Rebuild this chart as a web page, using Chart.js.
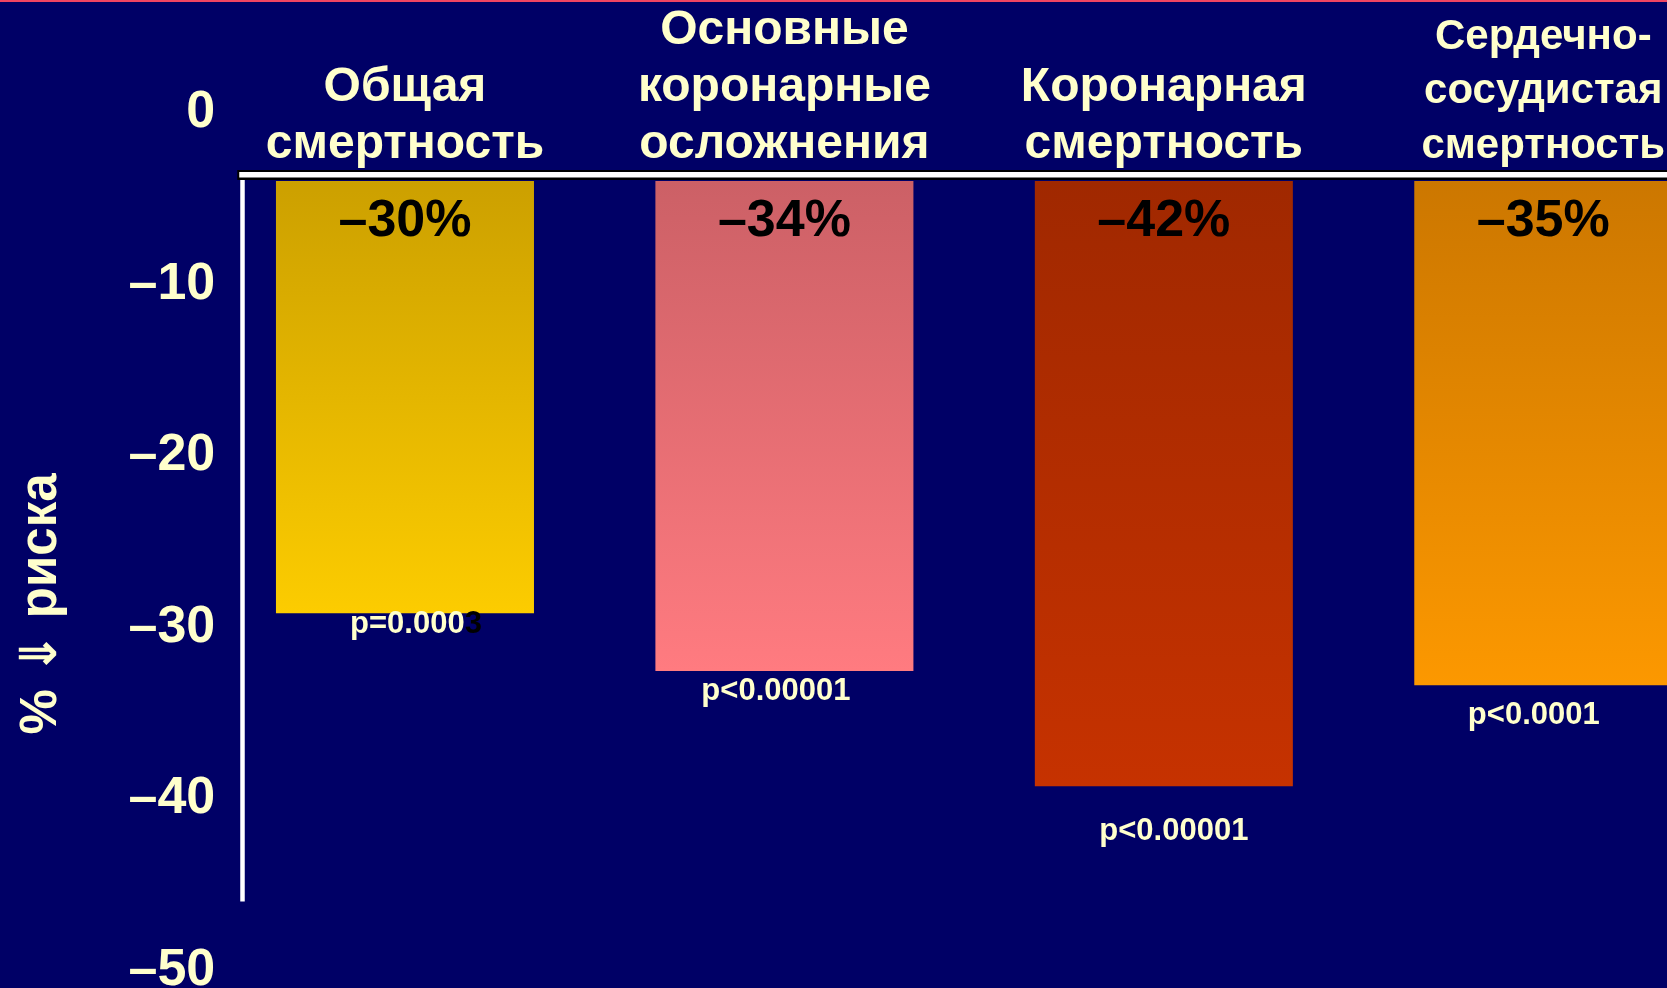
<!DOCTYPE html>
<html>
<head>
<meta charset="utf-8">
<script src="https://cdn.jsdelivr.net/npm/chart.js@4.4.1/dist/chart.umd.min.js"></script>
<style>
html,body{margin:0;padding:0;overflow:hidden;background:#000066;}
#wrap{position:relative;width:1667px;height:988px;overflow:hidden;background:#000066;}
#topline{position:absolute;left:0;top:0;width:100%;height:2px;background:#f04462;z-index:2;}
canvas{position:absolute;left:0;top:0;}
</style>
</head>
<body>
<div id="wrap"><div id="topline"></div><canvas id="c" width="1733" height="1032" style="width:1733px;height:1032px"></canvas></div>
<script>
// ---- data ----
const categories = [
  ['Общая', 'смертность'],
  ['Основные', 'коронарные', 'осложнения'],
  ['Коронарная', 'смертность'],
  ['Сердечно-', 'сосудистая', 'смертность']
];
const riskReduction = [-30, -34, -42, -35];
const pValues = ['p=0.0003', 'p<0.00001', 'p<0.00001', 'p<0.0001'];
const tickValues = [0, -10, -20, -30, -40, -50];
const tickLabels = ['0', '–10', '–20', '–30', '–40', '–50'];
const axisTitle = '% ⇓ риска';

// ---- styles ----
const barTopColors = ['#CCA000', '#CC6066', '#A02800', '#CC7700'];
const barBottomColors = ['#FCCC00', '#FF7B80', '#C63200', '#FC9800'];
const FAMILY = '"Liberation Sans", Arial, "DejaVu Sans", sans-serif';
const CREAM = '#FFFFCC';

function noPad(s) { s.paddingTop = 0; s.paddingBottom = 0; s.paddingLeft = 0; s.paddingRight = 0; }

const decor = {
  id: 'decor',
  beforeDatasetsDraw(chart) {
    const {ctx, chartArea, scales: {y}} = chart;
    const p0 = y.getPixelForValue(0);
    const pEnd = y.getPixelForValue(-50);
    ctx.save();
    ctx.fillStyle = '#000000';
    ctx.fillRect(chartArea.left + 22, p0 - 11, chart.width, 10);
    ctx.fillStyle = '#ffffff';
    ctx.fillRect(chartArea.left + 24, p0 - 9, chart.width, 5.5);
    ctx.fillRect(chartArea.left + 25, p0 - 1, 4.5, pEnd - p0 + 1);
    ctx.restore();
  }
};

const barLabels = {
  id: 'barLabels',
  afterDatasetsDraw(chart, args, opts) {
    const {ctx} = chart;
    const meta = chart.getDatasetMeta(0);
    ctx.save();
    ctx.textBaseline = 'middle';
    meta.data.forEach((bar, i) => {
      const v = riskReduction[i];
      ctx.font = 'bold 52px ' + FAMILY;
      ctx.fillStyle = '#000000';
      ctx.textAlign = 'center';
      ctx.fillText('–' + Math.abs(v) + '%', bar.x, bar.base + opts.valueOffset);

      ctx.font = 'bold 31px ' + FAMILY;
      const txt = pValues[i];
      const n = opts.darkTail[i];
      const head = txt.slice(0, txt.length - n);
      const tail = txt.slice(txt.length - n);
      const w = ctx.measureText(txt).width;
      const cx = bar.x + opts.pDx[i];
      const cy = bar.y + opts.pDy[i];
      ctx.textAlign = 'left';
      ctx.fillStyle = CREAM;
      ctx.fillText(head, cx - w / 2, cy);
      if (tail) {
        ctx.fillStyle = '#000000';
        ctx.fillText(tail, cx - w / 2 + ctx.measureText(head).width, cy);
      }
    });
    ctx.restore();
  }
};

new Chart(document.getElementById('c'), {
  type: 'bar',
  data: {
    labels: categories,
    datasets: [{
      data: riskReduction,
      yAxisID: 'y',
      borderWidth: 0,
      categoryPercentage: 1,
      barPercentage: 0.68,
      backgroundColor(c) {
        const chart = c.chart;
        if (!chart.chartArea || c.type !== 'data') return barBottomColors[c.dataIndex || 0];
        const y = chart.scales.y;
        const g = chart.ctx.createLinearGradient(0, y.getPixelForValue(0), 0, y.getPixelForValue(c.raw));
        g.addColorStop(0, barTopColors[c.dataIndex]);
        g.addColorStop(1, barBottomColors[c.dataIndex]);
        return g;
      }
    }]
  },
  options: {
    responsive: false,
    animation: false,
    events: [],
    devicePixelRatio: 1,
    layout: {padding: 0},
    plugins: {
      legend: {display: false},
      tooltip: {enabled: false},
      barLabels: {
        valueOffset: 41,
        pDx: [11, -8.5, 10, -9.5],
        pDy: [11, 21, 45, 30],
        darkTail: [1, 0, 0, 0]
      }
    },
    scales: {
      x: {
        type: 'category',
        position: 'top',
        offset: true,
        grid: {display: false, drawTicks: false},
        border: {display: false},
        afterFit(s) { s.height = 176; noPad(s); },
        ticks: {
          color: CREAM,
          padding: 2.5,
          maxRotation: 0,
          minRotation: 0,
          autoSkip: false,
          font: (c) => c.index === 3
            ? {family: FAMILY, size: 42, weight: 'bold', lineHeight: 1.3}
            : {family: FAMILY, size: 48, weight: 'bold', lineHeight: 1.19}
        }
      },
      y: {
        axis: 'y',
        display: false,
        min: -59.0562,
        max: 0.347
      },
      yt: {
        axis: 'y',
        type: 'linear',
        position: 'left',
        min: -53.586,
        max: -3.6735,
        grid: {display: false, drawTicks: false},
        border: {display: false},
        afterBuildTicks(s) { s.ticks = tickValues.map(v => ({value: v})); },
        afterFit(s) { s.width = 215.25; noPad(s); },
        ticks: {
          color: CREAM,
          padding: 0,
          autoSkip: false,
          font: {family: FAMILY, size: 52, weight: 'bold'},
          callback: (v) => tickLabels[tickValues.indexOf(v)]
        },
        title: {
          display: true,
          text: axisTitle,
          color: CREAM,
          font: {family: FAMILY, size: 51, weight: 'bold', lineHeight: 1.2},
          padding: {top: 11.5, bottom: 0}
        }
      }
    }
  },
  plugins: [decor, barLabels]
});
</script>
</body>
</html>
